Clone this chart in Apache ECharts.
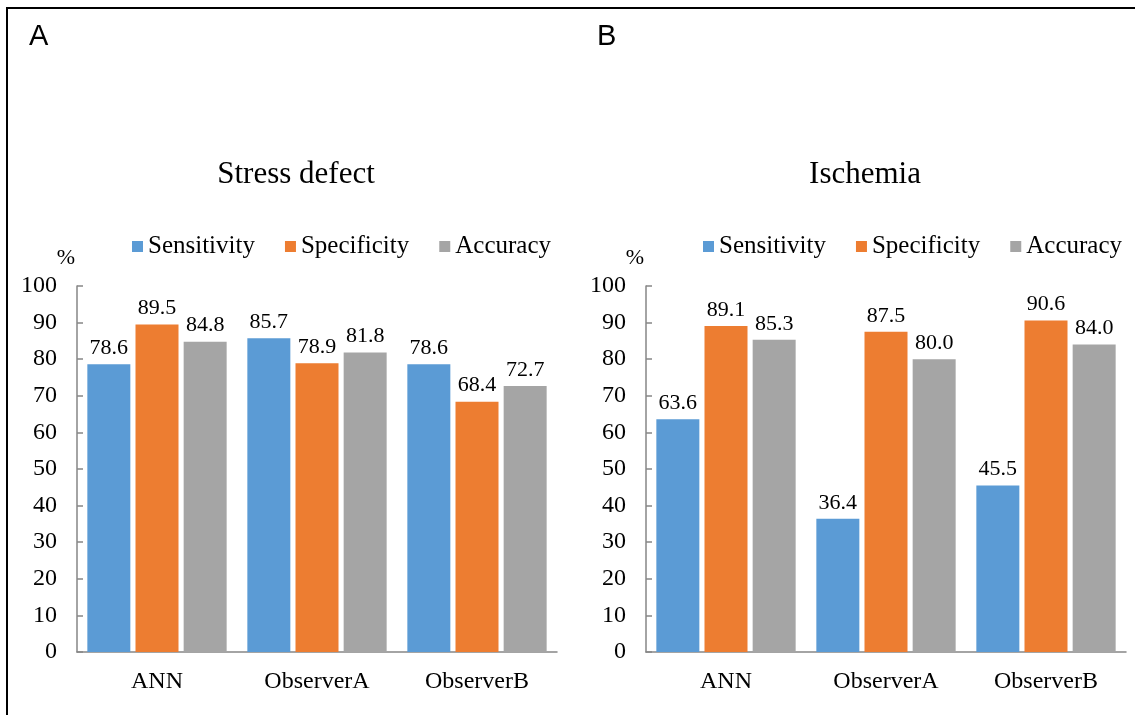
<!DOCTYPE html>
<html>
<head>
<meta charset="utf-8">
<script src="https://cdn.jsdelivr.net/npm/echarts@6/dist/echarts.min.js"></script>
<style>
  html, body { margin: 0; padding: 0; background: #fff; }
  #chart { width: 1135px; height: 715px; }
</style>
</head>
<body>
<div id="chart"></div>
<script>
  // 数据
  var categories = ['ANN', 'ObserverA', 'ObserverB'];
  var seriesNames = ['Sensitivity', 'Specificity', 'Accuracy'];
  var yTicks = [0, 10, 20, 30, 40, 50, 60, 70, 80, 90, 100];

  var stressSensitivity = [78.6, 85.7, 78.6];
  var stressSpecificity = [89.5, 78.9, 68.4];
  var stressAccuracy = [84.8, 81.8, 72.7];

  var ischemiaSensitivity = [63.6, 36.4, 45.5];
  var ischemiaSpecificity = [89.1, 87.5, 90.6];
  var ischemiaAccuracy = [85.3, 80.0, 84.0];

  var colors = ['#5B9BD5', '#ED7D31', '#A5A5A5'];
  var serif = '"Liberation Serif", "Times New Roman", serif';
  var sans = '"Liberation Sans", Arial, sans-serif';
  var axisColor = '#868686';

  var myChart = echarts.init(document.getElementById('chart'));

  function xAxisFor(gridIndex) {
    return {
      type: 'category',
      gridIndex: gridIndex,
      data: categories,
      axisLine: {lineStyle: {color: axisColor, width: 1.5}},
      axisTick: {show: false},
      axisLabel: {color: '#000', fontFamily: serif, fontSize: 24, margin: 18}
    };
  }

  function yAxisFor(gridIndex) {
    return {
      type: 'value',
      gridIndex: gridIndex,
      min: yTicks[0],
      max: yTicks[yTicks.length - 1],
      interval: 10,
      name: '%',
      nameLocation: 'end',
      nameGap: 17,
      nameTextStyle: {color: '#000', fontFamily: serif, fontSize: 22, align: 'right', padding: [0, 2, 0, 0]},
      splitLine: {show: false},
      axisLine: {show: true, lineStyle: {color: axisColor, width: 1.5}},
      axisTick: {show: true, inside: true, length: 6, lineStyle: {color: axisColor, width: 1.5}},
      axisLabel: {color: '#000', fontFamily: serif, fontSize: 24, margin: 20}
    };
  }

  function barSeries(name, data, idx, gridIndex) {
    return {
      name: name,
      type: 'bar',
      xAxisIndex: gridIndex,
      yAxisIndex: gridIndex,
      data: data,
      barWidth: 43,
      barGap: '12%',
      itemStyle: {color: colors[idx]},
      label: {
        show: true,
        position: 'top',
        distance: 5,
        color: '#000',
        fontFamily: serif,
        fontSize: 22,
        formatter: function (p) { return p.value.toFixed(1); }
      }
    };
  }

  function legendFor(left) {
    return {
      data: seriesNames,
      left: left,
      top: 229,
      itemWidth: 11,
      itemHeight: 11,
      itemGap: 30,
      icon: 'rect',
      textStyle: {color: '#000', fontFamily: serif, fontSize: 25}
    };
  }

  myChart.setOption({
    animation: false,
    backgroundColor: '#fff',
    color: colors,
    title: [
      {text: 'A', left: 24, top: 17, textStyle: {fontFamily: sans, fontSize: 29, fontWeight: 'normal', color: '#000'}},
      {text: 'B', left: 592, top: 17, textStyle: {fontFamily: sans, fontSize: 29, fontWeight: 'normal', color: '#000'}},
      {text: 'Stress defect', left: 291, textAlign: 'center', top: 154, textStyle: {fontFamily: serif, fontSize: 31, fontWeight: 'normal', color: '#000'}},
      {text: 'Ischemia', left: 860, textAlign: 'center', top: 154, textStyle: {fontFamily: serif, fontSize: 31, fontWeight: 'normal', color: '#000'}}
    ],
    legend: [legendFor(127), legendFor(698)],
    grid: [
      {left: 77, right: 578, top: 286, bottom: 63},
      {left: 646, right: 9, top: 286, bottom: 63}
    ],
    xAxis: [xAxisFor(0), xAxisFor(1)],
    yAxis: [yAxisFor(0), yAxisFor(1)],
    series: [
      barSeries(seriesNames[0], stressSensitivity, 0, 0),
      barSeries(seriesNames[1], stressSpecificity, 1, 0),
      barSeries(seriesNames[2], stressAccuracy, 2, 0),
      barSeries(seriesNames[0], ischemiaSensitivity, 0, 1),
      barSeries(seriesNames[1], ischemiaSpecificity, 1, 1),
      barSeries(seriesNames[2], ischemiaAccuracy, 2, 1)
    ],
    graphic: [
      // 外框（上、左）
      {type: 'line', shape: {x1: 7, y1: 8, x2: 1135, y2: 8}, style: {stroke: '#000', lineWidth: 2}},
      {type: 'line', shape: {x1: 7, y1: 7, x2: 7, y2: 715}, style: {stroke: '#000', lineWidth: 2}}
    ]
  });
</script>
</body>
</html>
